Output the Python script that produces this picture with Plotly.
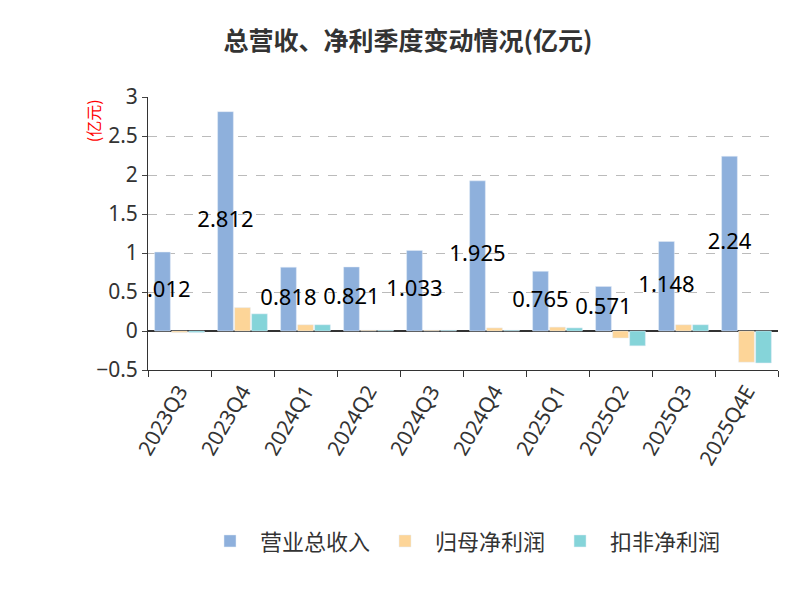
import plotly.graph_objects as go

quarters = ["2023Q3", "2023Q4", "2024Q1", "2024Q2", "2024Q3", "2024Q4", "2025Q1", "2025Q2", "2025Q3", "2025Q4E"]
revenue = [1.012, 2.812, 0.818, 0.821, 1.033, 1.925, 0.765, 0.571, 1.148, 2.24]
net_profit = [-0.02, 0.30, 0.08, 0.01, 0.01, 0.04, 0.05, -0.09, 0.08, -0.40]
net_profit_ex = [-0.02, 0.22, 0.08, 0.01, 0.01, 0.01, 0.04, -0.19, 0.08, -0.41]
revenue_labels = ["1.012", "2.812", "0.818", "0.821", "1.033", "1.925", "0.765", "0.571", "1.148", "2.24"]

xs = list(range(len(quarters)))
w = 0.25
off = 0.27

fig = go.Figure()
fig.add_bar(x=[i - off for i in xs], y=revenue, width=w, name="营业总收入", marker_color="#8eb0dc")
fig.add_bar(x=xs, y=net_profit, width=w, name="归母净利润", marker_color="#fdd598")
fig.add_bar(x=[i + off for i in xs], y=net_profit_ex, width=w, name="扣非净利润", marker_color="#85d4d9")

# value labels at mid-height of revenue bars
fig.add_scatter(x=[i - off for i in xs], y=[v / 2 for v in revenue], text=revenue_labels,
                mode="text", textfont=dict(size=22, color="black", family="Noto Sans"),
                showlegend=False, hoverinfo="skip")

fig.update_layout(
    width=800, height=600,
    title=dict(text="<b>总营收、净利季度变动情况(亿元)</b>", x=0.5, y=0.96, font=dict(size=25, color="#333")),
    font=dict(family="Noto Sans CJK SC", size=18, color="#333"),
    plot_bgcolor="white", paper_bgcolor="white",
    margin=dict(l=140, r=30, t=89, b=238, autoexpand=False),
    barmode="overlay",
    legend=dict(orientation="h", x=0.5, xanchor="center", y=-0.55, yanchor="top",
                font=dict(size=22), itemwidth=50),
    xaxis=dict(tickvals=xs, ticktext=quarters, tickangle=-60, range=[-0.5, 9.5], automargin=False,
               showline=True, linecolor="#333", ticks="", tickfont=dict(size=21, family="Noto Sans"),
               zeroline=False,
               minor=dict(ticks="outside", tick0=-0.5, dtick=1, ticklen=6, tickcolor="#333")),
    yaxis=dict(range=[-0.5, 3], dtick=0.5, showgrid=True, gridcolor="#bbb", griddash="dash", automargin=False,
               zeroline=True, zerolinecolor="#333", showline=True, linecolor="#333", ticks="outside",
               tickfont=dict(size=21, family="Noto Sans")),
)
fig.add_annotation(text="(亿元)", xref="paper", yref="paper", x=-0.11, y=1.0, yanchor="top",
                   textangle=-90, showarrow=False, font=dict(size=16, color="red"))
fig.add_annotation(text="制图数据来自恒生聚源数据库", xref="paper", yref="paper", x=0.5, y=-1.0,
                   yanchor="bottom", showarrow=False, font=dict(size=16, color="#c8960a"))
fig.write_html("out.html")
